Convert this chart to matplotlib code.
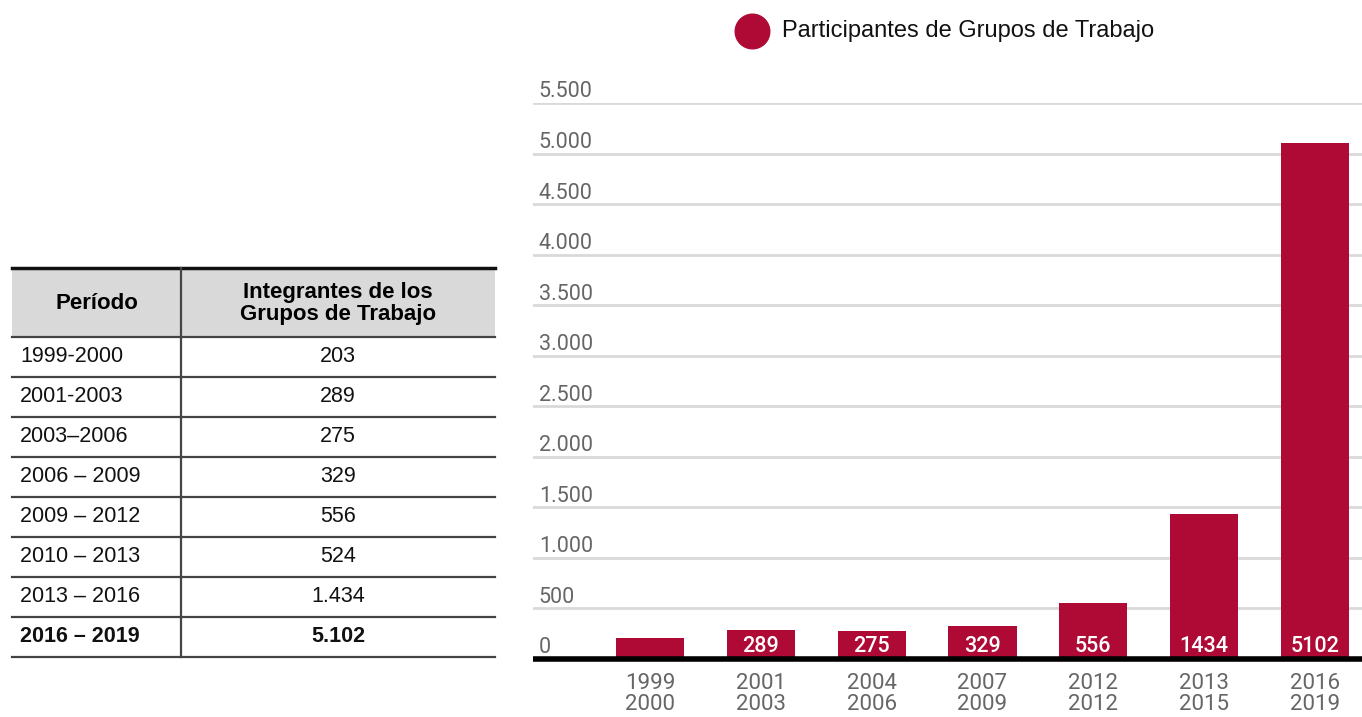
import matplotlib.pyplot as plt
from matplotlib.patches import Rectangle
from matplotlib.transforms import blended_transform_factory

# chart data
periods = ["1999\n2000", "2001\n2003", "2004\n2006", "2007\n2009",
           "2012\n2012", "2013\n2015", "2016\n2019"]
participants = [203, 289, 275, 329, 556, 1434, 5102]
yticks = [0, 500, 1000, 1500, 2000, 2500, 3000, 3500, 4000, 4500, 5000, 5500]
ytick_labels = ["0", "500", "1.000", "1.500", "2.000", "2.500", "3.000",
                "3.500", "4.000", "4.500", "5.000", "5.500"]

# table data
table_header = ["Período", "Integrantes de los\nGrupos de Trabajo"]
table_periods = ["1999-2000", "2001-2003", "2003–2006", "2006 – 2009",
                 "2009 – 2012", "2010 – 2013", "2013 – 2016", "2016 – 2019"]
table_values = ["203", "289", "275", "329", "556", "524", "1.434", "5.102"]

RED = "#ae0a35"
GREY = "#666666"
NARROW = ["Liberation Sans", "DejaVu Sans"]

W, H = 1362, 717
fig = plt.figure(figsize=(W / 100, H / 100), dpi=100)

# ---- bar chart ----
ax = fig.add_axes([533 / W, 1 - 659 / H, 1 - 533 / W, (659 - 103) / H])
x = range(len(periods))
ax.bar(x, participants, width=0.614, color=RED, zorder=3)
ax.set_xlim(-1.056, 6.424)
ax.set_ylim(0, 5500)
ax.set_yticks(yticks)
ax.yaxis.grid(True, color="#d9d9d9", linewidth=2, zorder=0)
ax.tick_params(axis="y", length=0, labelleft=False)
ax.set_xticks(list(x))
ax.set_xticklabels(periods, fontsize=16, color=GREY, family="Roboto",
                   linespacing=0.98)
ax.tick_params(axis="x", length=0, pad=10)
for s in ["top", "right", "left"]:
    ax.spines[s].set_visible(False)
ax.spines["bottom"].set_linewidth(4)
ax.spines["bottom"].set_color("black")
ax.spines["bottom"].set_capstyle("butt")
ax.spines["bottom"].set_zorder(4)

trans = blended_transform_factory(ax.transAxes, ax.transData)
for v, lab in zip(yticks, ytick_labels):
    ax.text(0.007, v + 55, lab, transform=trans, fontsize=15.5, color=GREY,
            family="Roboto", ha="left", va="baseline")

for i, v in enumerate(participants):
    if v >= 250:
        ax.text(i, 70, str(v), ha="center", va="baseline", color="white",
                fontsize=15.5, family="Roboto", fontweight="medium", zorder=5)

# ---- legend and table drawn in pixel space ----
ov = fig.add_axes([0, 0, 1, 1])
ov.set_xlim(0, W)
ov.set_ylim(H, 0)
ov.axis("off")
ov.scatter([752], [31], s=620, color=RED)
ov.text(782, 31, "Participantes de Grupos de Trabajo", fontsize=17,
        family=NARROW, va="center", ha="left", color="#111111")

left, right, divider = 12, 495, 181
top, head_bottom, row_h = 268, 337, 40
n = len(table_periods)
bottom = head_bottom + n * row_h

ov.add_patch(Rectangle((left, top), right - left, head_bottom - top,
                       facecolor="#d9d9d9", edgecolor="none"))
ov.plot([left, right], [top, top], color="#111111", linewidth=2.5)
ov.plot([divider, divider], [top, bottom], color="#444444", linewidth=1.6)
ov.text((left + divider) / 2, (top + head_bottom) / 2 + 1, table_header[0],
        fontsize=16, fontweight="bold", family=NARROW, ha="center", va="center")
ov.text((divider + right) / 2, (top + head_bottom) / 2 + 1, table_header[1],
        fontsize=16, fontweight="bold", family=NARROW, ha="center", va="center",
        linespacing=1.1)

for i, (p, v) in enumerate(zip(table_periods, table_values)):
    y0 = head_bottom + i * row_h
    ov.plot([left, right], [y0, y0], color="#444444", linewidth=1.6)
    w = "bold" if i == n - 1 else "normal"
    ov.text(20, y0 + row_h / 2, p, fontsize=15.5, family=NARROW, fontweight=w,
            ha="left", va="center", color="#111111")
    ov.text((divider + right) / 2, y0 + row_h / 2, v, fontsize=15.5, family=NARROW,
            fontweight=w, ha="center", va="center", color="#111111")
ov.plot([left, right], [bottom, bottom], color="#444444", linewidth=1.6)

fig.savefig("out.png", dpi=100)
